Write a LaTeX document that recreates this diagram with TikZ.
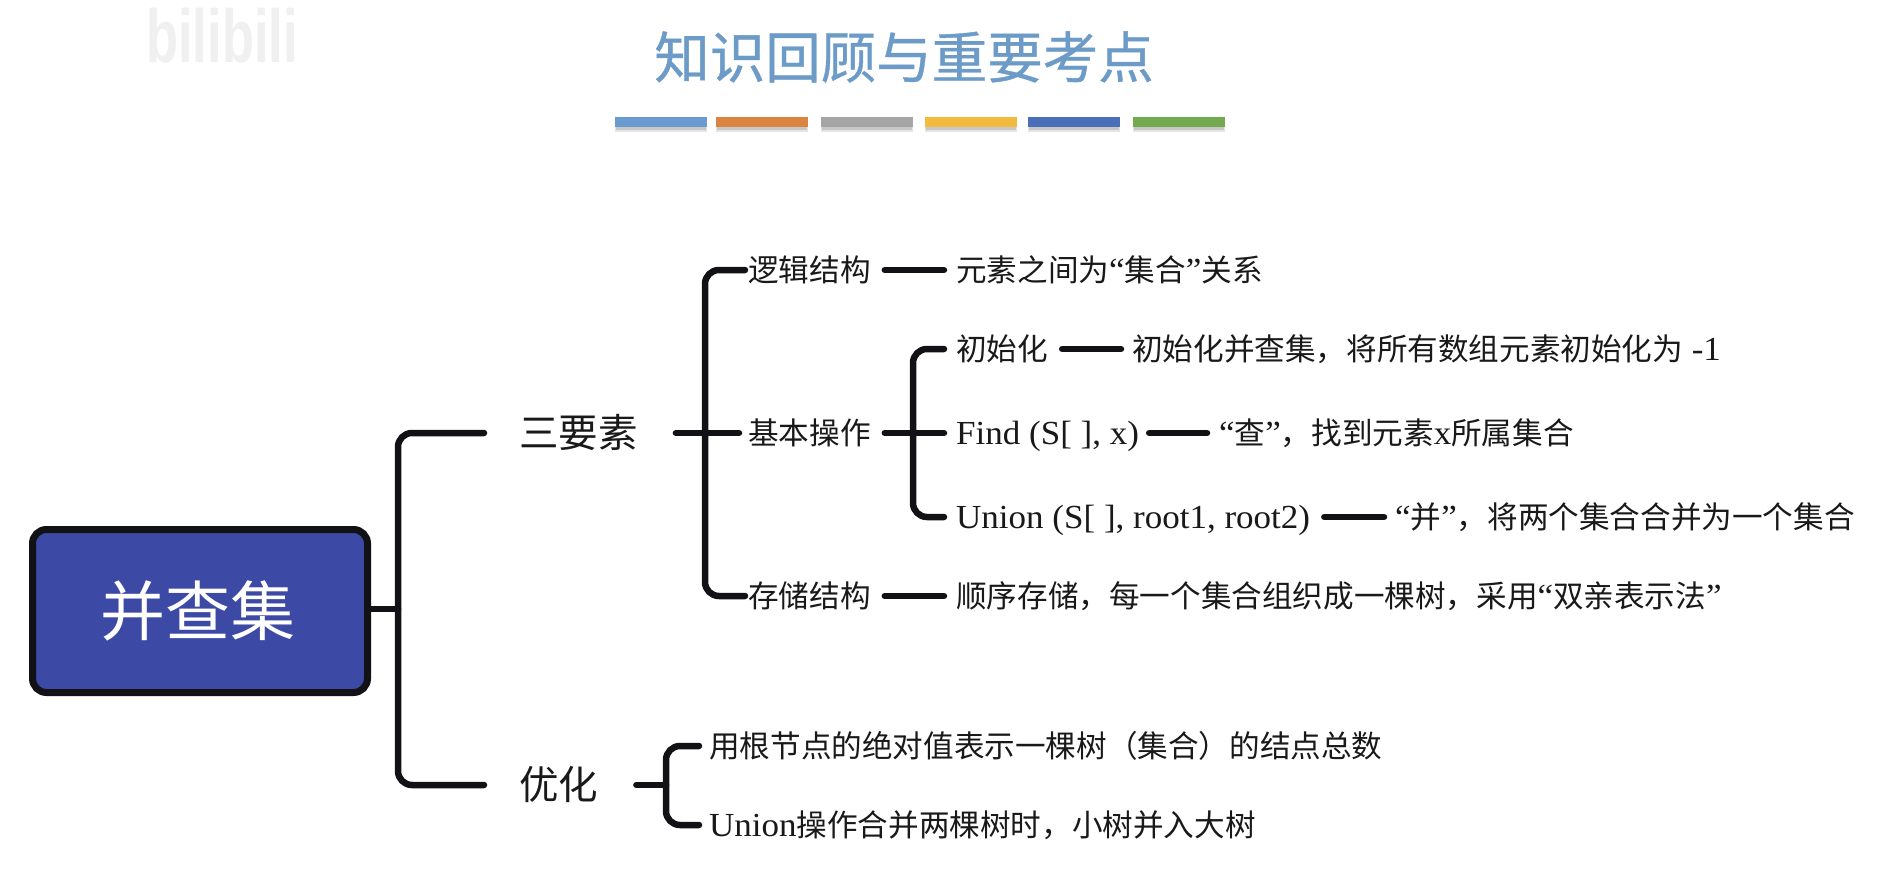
\documentclass[tikz,border=0pt]{standalone}
\usepackage{fontspec}
\setmainfont{Noto Sans CJK SC}
\newfontfamily\latf[Scale=1.1,FakeStretch=1.04]{Liberation Serif}
\newfontfamily\titlef[FakeBold=0.7]{Noto Sans CJK SC}
\newfontfamily\wmf[Scale=1]{Liberation Sans}
\newcommand{\lat}[1]{{\latf #1}}
\newcommand{\dou}{\char"FF0C\relax}
\newcommand{\lpar}{\char"FF08\relax}
\newcommand{\rpar}{\char"FF09\relax}
\usetikzlibrary{calc}
\definecolor{titleblue}{HTML}{6C9BC8}
\definecolor{rootblue}{HTML}{3C4AA6}
\definecolor{inkline}{HTML}{111116}
\tikzset{
  conn/.style={draw=inkline,line width=6.5pt,line cap=round,line join=round},
  bracket/.style={conn,rounded corners=14pt},
  txt/.style={anchor=west,inner sep=0pt,text=black!90,text height=26.4pt,text depth=3.6pt,font=\fontsize{30.6}{36}\selectfont},
  big/.style={anchor=west,inner sep=0pt,text=black!90,text height=34pt,text depth=5pt,font=\fontsize{39.5}{46}\selectfont},
  bar/.style={draw=none,minimum width=92pt,minimum height=10pt,inner sep=0pt,anchor=north west},
}
\begin{document}
\begin{tikzpicture}[x=1pt,y=-1pt]
\useasboundingbox (0,0) rectangle (1900,896);
\fill[white] (0,0) rectangle (1900,896);
% watermark
\node[anchor=west,inner sep=0pt,text=black!6,xscale=1.05,yscale=1.5,font=\fontsize{50}{50}\selectfont\wmf\bfseries] (wm) at (146,36) {bilibili};
% title
\node[inner sep=0pt,text=titleblue,font=\fontsize{55.5}{60}\selectfont\titlef] (title) at (904,57) {知识回顾与重要考点};
% colour bars
\foreach \n/\x/\c in {a/615/6A9BD0,b/716/D9843F,c/821/A5A5A5,d/925/F2BB3D,e/1028/4A6FB8,f/1133/73A94F}{
  \fill[black!10] (\x,122) rectangle (\x+92,132);
  \fill[black!22] (\x+1,122) rectangle (\x+91,130);
  \definecolor{barc}{HTML}{\c}
  \node[bar,fill=barc] (bar\n) at (\x,117) {};
}
% root
\node[draw=inkline,fill=rootblue,line width=7pt,rounded corners=14pt,minimum width=335pt,minimum height=163pt,inner sep=0pt,text=white,font=\fontsize{65}{70}\selectfont] (root) at (200,611) {\hspace*{-5pt}并查集};
% level 1
\node[big] (sanyao) at (519,433) {三要素};
\node[big] (youhua) at (519,785) {优化};
% level 2
\node[txt] (luoji) at (748,270) {逻辑结构};
\node[txt] (jiben) at (748,433) {基本操作};
\node[txt] (cunchu) at (748,596) {存储结构};
\node[txt] (luojid) at (956,270) {元素之间为\lat{“}集合\lat{”}关系};
\node[txt] (cunchud) at (956,596) {顺序存储\dou 每一个集合组织成一棵树\dou 采用\lat{“}双亲表示法\lat{”}};
% level 3
\node[txt] (init) at (956,349) {初始化};
\node[txt] (find) at (956,433) {\lat{Find (S[ ], x)}};
\node[txt] (union) at (956,517) {\lat{Union (S[ ], root1, root2)}};
\node[txt] (initd) at (1132,349) {初始化并查集\dou 将所有数组元素初始化为\lat{ -1}};
\node[txt] (findd) at (1219,433) {\lat{“}查\lat{”}\dou 找到元素\lat{x}所属集合};
\node[txt] (uniond) at (1395,517) {\lat{“}并\lat{”}\dou 将两个集合合并为一个集合};
% optimisation leaves
\node[txt] (opta) at (709,746) {用根节点的绝对值表示一棵树\lpar 集合\rpar 的结点总数};
\node[txt] (optb) at (709,825) {\lat{Union}操作合并两棵树时\dou 小树并入大树};
% junctions
\coordinate (j0) at (398,609);
\coordinate (j1) at (705,433);
\coordinate (j2) at (913,433);
\coordinate (j3) at (666,785);
% connectors
\draw[conn] (root.east |- j0) -- (j0);
\draw[bracket] ([xshift=-35pt]sanyao.west) -| (j0) |- ([xshift=-35pt]youhua.west);
\draw[conn] ([xshift=38pt]sanyao.east) -- ([xshift=-9pt]jiben.west);
\draw[bracket] ([xshift=-3pt]luoji.west) -| (j1) |- ([xshift=-3pt]cunchu.west);
\draw[conn] ([xshift=14pt]luoji.east) -- ([xshift=-12pt]luojid.west);
\draw[conn] ([xshift=14pt]jiben.east) -- ([xshift=-12pt]find.west);
\draw[conn] ([xshift=14pt]cunchu.east) -- ([xshift=-12pt]cunchud.west);
\draw[bracket] ([xshift=-12pt]init.west) -| (j2) |- ([xshift=-12pt]union.west);
\draw[conn] ([xshift=14pt]init.east) -- ([xshift=-11pt]initd.west);
\draw[conn] ([xshift=10pt]find.east) -- ([xshift=-12pt]findd.west);
\draw[conn] ([xshift=14pt]union.east) -- ([xshift=-11pt]uniond.west);
\draw[conn] ([xshift=38pt]youhua.east) -- (j3);
\draw[bracket] ([xshift=-10pt]opta.west) -| (j3) |- ([xshift=-10pt]optb.west);
\end{tikzpicture}
\end{document}
